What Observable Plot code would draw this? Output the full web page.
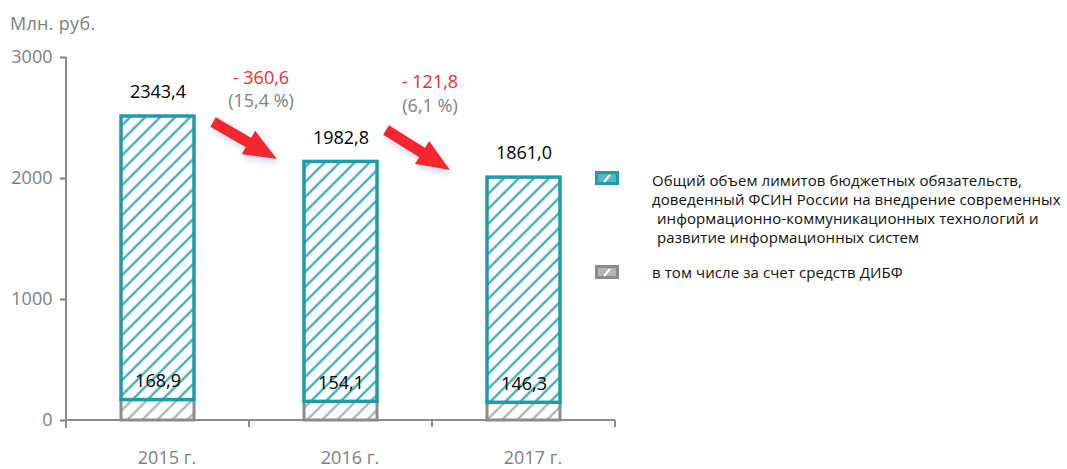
<!DOCTYPE html>
<html><head><meta charset="utf-8">
<script src="https://cdn.jsdelivr.net/npm/d3@7"></script>
<script src="https://cdn.jsdelivr.net/npm/@observablehq/plot@0.6"></script>
<style>
body{margin:0;background:#fff;font-family:"Open Sans",sans-serif;}
#wrap{position:relative;width:1067px;height:469px;overflow:hidden;}
#chart{position:absolute;left:0;top:0;}
#unit{position:absolute;left:10px;top:10px;font-size:18px;line-height:26px;color:#7f7f7f;letter-spacing:0.3px;}
.sw{position:absolute;}
.lgtext{position:absolute;font-size:15px;line-height:19px;color:#111;white-space:nowrap;letter-spacing:0.08px;}
</style></head><body>
<svg width="0" height="0" style="position:absolute">
<defs>
<pattern id="hatchTeal" patternUnits="userSpaceOnUse" width="10.6" height="10.6" patternTransform="rotate(45)">
<rect width="10.6" height="10.6" fill="#ffffff"/>
<line x1="5.3" y1="0" x2="5.3" y2="10.6" stroke="#35a8b6" stroke-width="2.2"/>
</pattern>
<pattern id="hatchGray" patternUnits="userSpaceOnUse" width="10.6" height="10.6" patternTransform="rotate(45)">
<rect width="10.6" height="10.6" fill="#ffffff"/>
<line x1="5.3" y1="0" x2="5.3" y2="10.6" stroke="#a8a8a8" stroke-width="2"/>
</pattern>
<filter id="shadow" x="-30%" y="-30%" width="160%" height="170%">
<feDropShadow dx="2" dy="4" stdDeviation="3" flood-color="#9fbde0" flood-opacity="0.55"/>
</filter>
</defs>
</svg>
<div id="wrap">
<div id="chart"></div>
<div id="unit">Млн. руб.</div>
<div id="legend"></div>
</div>
<script>
// ---- data ----
const years = ["2015 г.", "2016 г.", "2017 г."];
const totalLimits = [2343.4, 1982.8, 1861.0];
const dibfFunds = [168.9, 154.1, 146.3];
const yTicks = [0, 1000, 2000, 3000];
const unitLabel = "Млн. руб.";
const legendTotalLines = [
  "Общий объем лимитов бюджетных обязательств,",
  "доведенный ФСИН России на внедрение современных",
  "информационно-коммуникационных технологий и",
  "развитие информационных систем"
];
const legendDibf = "в том числе за счет средств ДИБФ";

// ---- derived ----
const fmt = v => v.toFixed(1).replace(".", ",");
const rows = years.map((year, i) => ({year, total: totalLimits[i], dibf: dibfFunds[i]}));
const changes = years.slice(1).map((year, i) => {
  const d = totalLimits[i] - totalLimits[i + 1];
  return {from: years[i], to: year, diff: "- " + fmt(d), pct: "(" + fmt(d / totalLimits[i] * 100) + " %)"};
});

// ---- layout (positions/styles, not data) ----
const TEAL = "#1f9bab", GRAY = "#8c8c8c", TXTGRAY = "#7f7f7f", RED = "#f5282d";
const arrowLayout = [
  {tailDx: -36, tailY: 2463, tipDx: 28, tipY: 2157},
  {tailDx: -46, tailY: 2397, tipDx: 18, tipY: 2066}
];
const noteLayout = [
  {dx: 12, yRed: 2831, yGray: 2636},
  {dx: -2, yRed: 2798, yGray: 2595}
];

function decorations(index, scales, values, dims) {
  const x = scales.x, y = scales.y;
  const bw = x.bandwidth(), step = x.step();
  const boundary = name => x(name) + bw + (step - bw) / 2;
  const left = dims.marginLeft, right = dims.width - dims.marginRight;
  const y0 = y(0), yTop = y(yTicks[yTicks.length - 1]);
  const g = d3.create("svg:g");
  const ax = g.append("g").attr("stroke", GRAY).attr("stroke-width", 2);
  ax.append("line").attr("x1", left).attr("x2", left).attr("y1", yTop).attr("y2", y0 + 8);
  ax.append("line").attr("x1", left).attr("x2", right).attr("y1", y0).attr("y2", y0);
  years.forEach(name => {
    const bx = boundary(name);
    ax.append("line").attr("x1", bx).attr("x2", bx).attr("y1", y0).attr("y2", y0 + 7);
  });
  changes.forEach((c, i) => {
    const b = boundary(c.from);
    const L = arrowLayout[i];
    const T = [b + L.tailDx, y(L.tailY)], P = [b + L.tipDx, y(L.tipY)];
    const len = Math.hypot(P[0] - T[0], P[1] - T[1]);
    const u = [(P[0] - T[0]) / len, (P[1] - T[1]) / len];
    const n = [u[1], -u[0]];
    const sw = 5.5, hw = 13.5, hl = 33;
    const B = [P[0] - u[0] * hl, P[1] - u[1] * hl];
    const pt = (p, k) => [p[0] + n[0] * k, p[1] + n[1] * k];
    const pts = [pt(T, sw), pt(B, sw), pt(B, hw), P, pt(B, -hw), pt(B, -sw), pt(T, -sw)];
    g.append("polygon").attr("points", pts.map(p => p.join(",")).join(" "))
      .attr("fill", RED).attr("filter", "url(#shadow)");
    const N = noteLayout[i];
    const t = g.append("g").attr("text-anchor", "middle").attr("font-size", 18)
      .attr("font-family", '"Open Sans", sans-serif');
    t.append("text").attr("x", b + N.dx).attr("y", y(N.yRed)).attr("dy", "0.35em").attr("fill", RED).text(c.diff);
    t.append("text").attr("x", b + N.dx).attr("y", y(N.yGray)).attr("dy", "0.35em").attr("fill", TXTGRAY).text(c.pct);
  });
  return g.node();
}

const chart = Plot.plot({
  width: 1067, height: 469,
  marginLeft: 66, marginRight: 452, marginTop: 57, marginBottom: 49,
  style: {fontFamily: '"Open Sans", sans-serif', fontSize: "18px", background: "transparent"},
  x: {domain: years, paddingInner: 0.6, paddingOuter: 0.3, label: null},
  y: {domain: [0, 3000], label: null},
  marks: [
    Plot.axisY({ticks: yTicks, tickFormat: d => String(d), tickSize: 6, tickPadding: 8, fontSize: 18, color: TXTGRAY, strokeWidth: 2, label: null}),
    Plot.axisX({tickSize: 0, tickPadding: 31, fontSize: 18, color: TXTGRAY, dx: 9, label: null}),
    Plot.barY(rows, {x: "year", y1: () => 0, y2: "dibf", fill: "url(#hatchGray)", stroke: GRAY, strokeWidth: 3}),
    Plot.barY(rows, {x: "year", y1: "dibf", y2: d => d.dibf + d.total, fill: "url(#hatchTeal)", stroke: TEAL, strokeWidth: 3.5}),
    Plot.text(rows, {x: "year", y: d => d.dibf + d.total, text: d => fmt(d.total), dy: -24, fontSize: 18, fill: "#000"}),
    Plot.text(rows, {x: "year", y: "dibf", text: d => fmt(d.dibf), dy: -19, fontSize: 18, fill: "#000"}),
    decorations
  ]
});
document.getElementById("chart").appendChild(chart);
document.getElementById("unit").textContent = unitLabel;

// legend
const lg = d3.select("#legend");
function swatch(left, top, fill, stroke) {
  const s = lg.append("svg").attr("class", "sw").attr("width", 24).attr("height", 14)
    .style("left", left + "px").style("top", top + "px");
  s.append("rect").attr("x", 1.5).attr("y", 1.5).attr("width", 21).attr("height", 11)
    .attr("fill", fill).attr("stroke", stroke).attr("stroke-width", 3);
  s.append("line").attr("x1", 9).attr("y1", 11).attr("x2", 15).attr("y2", 4)
    .attr("stroke", "#fff").attr("stroke-width", 2);
}
swatch(595, 171, "#58b7c3", TEAL);
swatch(595, 265, "#b4b4b4", GRAY);
legendTotalLines.forEach((line, i) => {
  lg.append("div").attr("class", "lgtext")
    .style("left", (i >= 2 ? 657 : 652) + "px").style("top", (171 + i * 19) + "px").text(line);
});
lg.append("div").attr("class", "lgtext").style("left", "652px").style("top", "263px").text(legendDibf);
</script>
</body></html>
